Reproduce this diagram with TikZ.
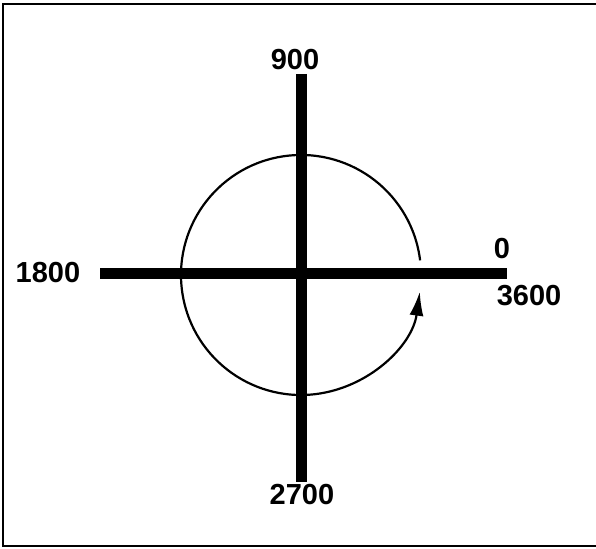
\documentclass[tikz,border=0pt]{standalone}
\usepackage{fontspec}
\setmainfont{Liberation Sans}
\usetikzlibrary{arrows.meta}

\begin{document}
\begin{tikzpicture}[x=1pt, y=1pt,
    every node/.style={font=\fontsize{29}{32}\selectfont\bfseries, inner sep=0pt},
    axisbar/.style={line width=11pt},
    turnarc/.style={line width=2.2pt, -{Latex[length=24pt, width=14pt]}},
    framebox/.style={line width=1.5pt}
]
    \useasboundingbox (0,0) rectangle (596,548);

    % Frame (left, top and bottom only)
    \coordinate (tl) at (3,544);
    \coordinate (tr) at (596,544);
    \coordinate (bl) at (3,2);
    \coordinate (br) at (596,2);
    \draw [framebox] (tr) -- (tl) -- (bl) -- (br);

    % Axes
    \coordinate (centre) at (301,274);
    \coordinate (west) at (100,274);
    \coordinate (east) at (507,274);
    \coordinate (north) at (301,474);
    \coordinate (south) at (301,66);
    \draw [axisbar] (west) -- (east);
    \draw [axisbar] (north) -- (south);

    % Labels
    \node (deg90) at (295,488) {900};
    \node (deg180) at (48,275) {1800};
    \node (deg0) at (502,299) {0};
    \node (deg360) at (529,252) {3600};
    \node (deg270) at (302,53) {2700};

    % Direction of turn
    \coordinate (arcstart) at ([shift={(7:120)}]301,273);
    \draw [turnarc] (arcstart) arc[start angle=7, end angle=352, radius=120];

\end{tikzpicture}
\end{document}
